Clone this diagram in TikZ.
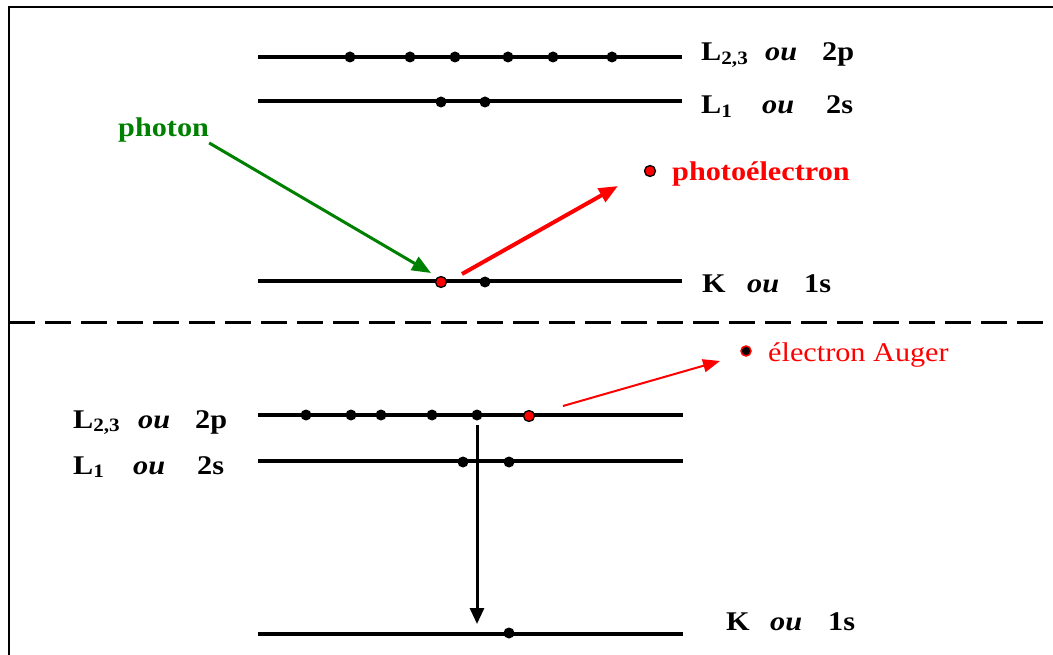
\documentclass[tikz,border=0pt]{standalone}
\usepackage{fontspec}
\setmainfont[FakeStretch=1.12]{Liberation Serif}
\usetikzlibrary{arrows.meta,positioning}

\begin{document}
\begin{tikzpicture}[
    x=1pt, y=-1pt,
    every node/.style={inner sep=0pt},
    level/.style={line width=3.8pt},
    electron/.style={circle, fill=black, minimum size=11pt},
    photoel/.style={circle, draw=black, fill=red, line width=1.3pt, minimum size=11pt},
    augerel/.style={circle, draw=red, fill=black, line width=1.5pt, minimum size=10pt},
    lbl/.style={anchor=base west, font=\fontsize{27}{32}\selectfont\bfseries},
    >={Triangle[length=19pt, width=15pt]}
]
    \useasboundingbox (0,0) rectangle (1053,655);
    % frame and separation
    \draw[line width=2.5pt] (9,655) -- (9,7) -- (1053,7);
    \draw[line width=3pt, dash pattern=on 26pt off 10pt] (9,323) -- (1046,323);

    % upper part: photoemission
    \draw[level] (258,57) -- (682,57);
    \draw[level] (258,101) -- (682,101);
    \draw[level] (258,281) -- (682,281);

    \node[electron] (pa1) at (350,57) {};
    \node[electron] (pa2) at (410,57) {};
    \node[electron] (pa3) at (455,57) {};
    \node[electron] (pa4) at (508,57) {};
    \node[electron] (pa5) at (553,57) {};
    \node[electron] (pa6) at (612,57) {};
    \node[electron] (pb1) at (441,102) {};
    \node[electron] (pb2) at (485,102) {};
    \node[photoel] (pk1) at (441,282) {};
    \node[electron] (pk2) at (485,282) {};

    \node[lbl] (pL23) at (701,61) {L\textsubscript{2,3}};
    \node[lbl] (pou23) at (765,61) {\textit{ou}};
    \node[lbl] (p2p) at (822,61) {2p};
    \node[lbl] (pL1) at (701,114) {L\textsubscript{1}};
    \node[lbl] (pou1) at (762,114) {\textit{ou}};
    \node[lbl] (p2s) at (826,114) {2s};
    \node[lbl] (pK) at (702,293) {K};
    \node[lbl] (pouK) at (747,293) {\textit{ou}};
    \node[lbl] (p1s) at (804,293) {1s};

    \node[lbl, text=green!50!black] (photon) at (118,137) {photon};
    \node[photoel] (pel) at (650,171) {};
    \node[lbl, text=red] (peltxt) at (672,181) {photoélectron};

    \coordinate (hit) at (431,273);
    \coordinate (out0) at (462,274);
    \coordinate (out1) at (618,186);
    \draw[->, line width=3pt, green!50!black] (photon.south east) -- (hit);
    \draw[->, line width=4pt, red] (out0) -- (out1);

    % lower part: Auger emission
    \draw[level] (258,415) -- (683,415);
    \draw[level] (258,461) -- (683,461);
    \draw[level] (258,634) -- (683,634);

    \node[electron] (aa1) at (306,415) {};
    \node[electron] (aa2) at (351,415) {};
    \node[electron] (aa3) at (381,415) {};
    \node[electron] (aa4) at (432,415) {};
    \node[electron] (aa5) at (477,415) {};
    \node[photoel] (aa6) at (529,416) {};
    \node[electron] (ab1) at (463,462) {};
    \node[electron] (ab2) at (509,462) {};
    \node[electron] (ak1) at (509,633) {};

    \node[lbl] (aL23) at (73,428) {L\textsubscript{2,3}};
    \node[lbl] (aou23) at (138,428) {\textit{ou}};
    \node[lbl] (a2p) at (195,428) {2p};
    \node[lbl] (aL1) at (73,474) {L\textsubscript{1}};
    \node[lbl] (aou1) at (133,474) {\textit{ou}};
    \node[lbl] (a2s) at (197,474) {2s};
    \node[lbl] (aK) at (726,630) {K};
    \node[lbl] (aouK) at (770,630) {\textit{ou}};
    \node[lbl] (a1s) at (828,630) {1s};

    \node[augerel] (ael) at (746,351) {};
    \node[lbl, font=\fontsize{27}{32}\selectfont, text=red] (aeltxt) at (768,361) {électron Auger};

    \coordinate (drop) at (477,425);
    \coordinate (fill) at (477,624);
    \coordinate (aug0) at (563,406);
    \coordinate (aug1) at (720,361);
    \draw[->, line width=3pt, >={Triangle[length=16pt, width=14pt]}] (drop) -- (fill);
    \draw[->, line width=2pt, red, >={Triangle[length=17pt, width=13pt]}] (aug0) -- (aug1);
\end{tikzpicture}
\end{document}
